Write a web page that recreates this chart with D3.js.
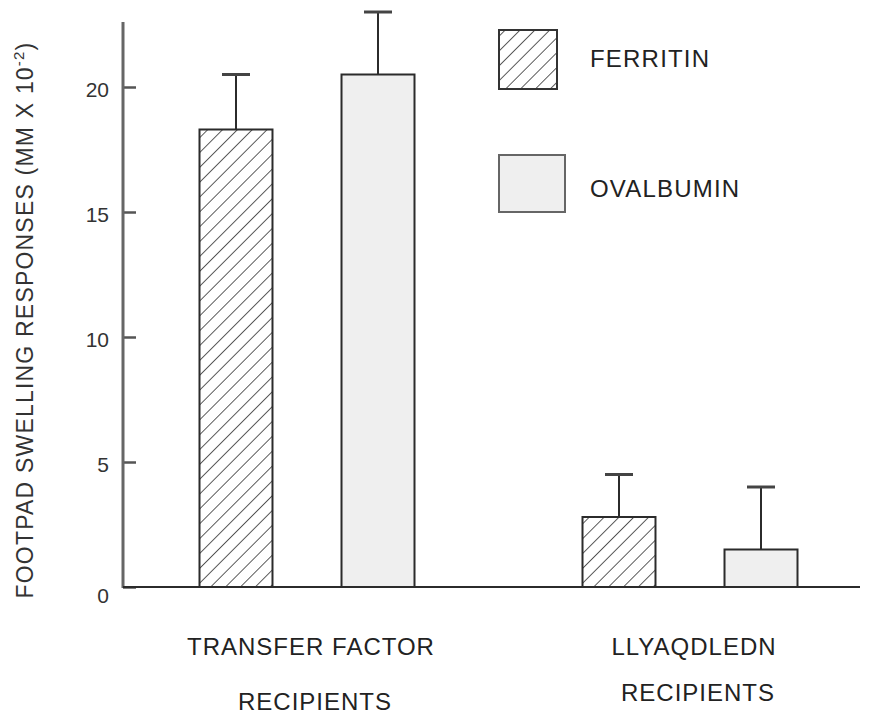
<!DOCTYPE html>
<html>
<head>
<meta charset="utf-8">
<script src="https://cdn.jsdelivr.net/npm/d3@7"></script>
<style>
  html, body { margin: 0; padding: 0; background: #fff; }
  svg { display: block; font-family: "Liberation Sans", Arial, Helvetica, sans-serif; }
</style>
</head>
<body>
<svg id="chart" width="874" height="716"></svg>
<script>
// ---- data ----
const groups = ["TRANSFER FACTOR", "LLYAQDLEDN"];
const groupSubLabels = ["RECIPIENTS", "RECIPIENTS"];
const series = ["FERRITIN", "OVALBUMIN"];
const ferritinValues = [18.3, 2.8];
const ferritinErrors = [2.2, 1.7];
const ovalbuminValues = [20.5, 1.5];
const ovalbuminErrors = [2.5, 2.5];
const yTicks = [0, 5, 10, 15, 20];
const yMax = 22.6;

const table = [
  { key: "FERRITIN", values: ferritinValues, errors: ferritinErrors },
  { key: "OVALBUMIN", values: ovalbuminValues, errors: ovalbuminErrors }
];

const svg = d3.select("#chart");
const ink = "#2b2b2b";

// ---- scales ----
const y = d3.scaleLinear().domain([0, yMax]).range([587, 22]);
const x0 = d3.scalePoint().domain(groups).range([307, 690]);
const x1 = d3.scaleBand().domain(series).range([-107.5, 107.5]).paddingInner(0.486).paddingOuter(0);

// ---- hatch pattern ----
const defs = svg.append("defs");
const pat = defs.append("pattern")
  .attr("id", "hatch")
  .attr("patternUnits", "userSpaceOnUse")
  .attr("width", 10.5).attr("height", 10.5)
  .attr("patternTransform", "rotate(45)");
pat.append("rect").attr("width", 10.5).attr("height", 10.5).attr("fill", "#fff");
pat.append("line").attr("x1", 0).attr("y1", 0).attr("x2", 0).attr("y2", 10.5)
  .attr("stroke", "#333").attr("stroke-width", 1.6);

const fills = { FERRITIN: "url(#hatch)", OVALBUMIN: "#efefef" };

// ---- axes ----
const xLeft = 123, xRight = 860;
const yAxis = d3.axisRight(y).tickValues(yTicks).tickSize(13).tickFormat(d3.format("d"));
const yG = svg.append("g").attr("transform", `translate(${xLeft},0)`).call(yAxis);
yG.select(".domain").remove();
yG.selectAll(".tick line").attr("stroke", "#555").attr("stroke-width", 2.5);
yG.selectAll(".tick text").remove();
yG.append("line").attr("x1", 0).attr("x2", 0).attr("y1", y(0) + 1).attr("y2", y(yMax))
  .attr("stroke", "#666").attr("stroke-width", 3);

// tick labels
svg.append("g").selectAll("text").data(yTicks).join("text")
  .attr("x", 109)
  .attr("y", d => y(d) + (d === 0 ? 16 : 10))
  .attr("text-anchor", "end")
  .attr("font-size", 21)
  .attr("fill", "#333")
  .text(d => d);

// x axis baseline
svg.append("line").attr("x1", xLeft).attr("x2", xRight).attr("y1", y(0)).attr("y2", y(0))
  .attr("stroke", ink).attr("stroke-width", 2);

// ---- bars ----
const gGroups = svg.append("g").selectAll("g").data(groups).join("g")
  .attr("transform", g => `translate(${x0(g)},0)`);

gGroups.each(function(g, gi) {
  const sel = d3.select(this);
  table.forEach(s => {
    const v = s.values[gi], e = s.errors[gi];
    const bx = x1(s.key), bw = x1.bandwidth();
    const cx = bx + bw / 2;
    sel.append("line").attr("x1", cx).attr("x2", cx).attr("y1", y(v)).attr("y2", y(v + e))
      .attr("stroke", ink).attr("stroke-width", 2);
    sel.append("line").attr("x1", cx - 14).attr("x2", cx + 14).attr("y1", y(v + e)).attr("y2", y(v + e))
      .attr("stroke", "#444").attr("stroke-width", 3);
    sel.append("rect")
      .attr("x", bx).attr("width", bw)
      .attr("y", y(v)).attr("height", y(0) - y(v))
      .attr("fill", fills[s.key])
      .attr("stroke", ink).attr("stroke-width", 2);
  });
});

// ---- category labels ----
svg.append("g").selectAll("text").data(groups).join("text")
  .attr("x", g => x0(g) + 4)
  .attr("y", 655)
  .attr("text-anchor", "middle")
  .attr("font-size", 24)
  .attr("letter-spacing", 1.0)
  .attr("fill", "#222")
  .text(g => g);
svg.append("g").selectAll("text").data(groupSubLabels).join("text")
  .attr("x", (d, i) => x0(groups[i]) + 8)
  .attr("y", (d, i) => i === 0 ? 710 : 701)
  .attr("text-anchor", "middle")
  .attr("font-size", 24)
  .attr("letter-spacing", 1.0)
  .attr("fill", "#222")
  .text(d => d);

// ---- legend ----
const legendBoxes = [
  { key: "FERRITIN", x: 499, y: 30, w: 58, h: 59, stroke: "#333", ty: 67 },
  { key: "OVALBUMIN", x: 499, y: 155, w: 66, h: 57, stroke: "#666", ty: 197 }
];
const lg = svg.append("g");
legendBoxes.forEach(b => {
  lg.append("rect").attr("x", b.x).attr("y", b.y).attr("width", b.w).attr("height", b.h)
    .attr("fill", fills[b.key]).attr("stroke", b.stroke).attr("stroke-width", 2);
  lg.append("text").attr("x", 590).attr("y", b.ty)
    .attr("font-size", 24).attr("letter-spacing", 1.2).attr("fill", "#222").text(b.key);
});

// ---- y label ----
const yl = svg.append("text")
  .attr("transform", "translate(33,320) rotate(-90)")
  .attr("text-anchor", "middle")
  .attr("font-size", 23)
  .attr("letter-spacing", 1.2)
  .attr("fill", "#333");
yl.append("tspan").text("FOOTPAD SWELLING RESPONSES (MM X 10");
yl.append("tspan").attr("font-size", 15).attr("dy", -9).text("-2");
yl.append("tspan").attr("dy", 9).text(")");
</script>
</body>
</html>
